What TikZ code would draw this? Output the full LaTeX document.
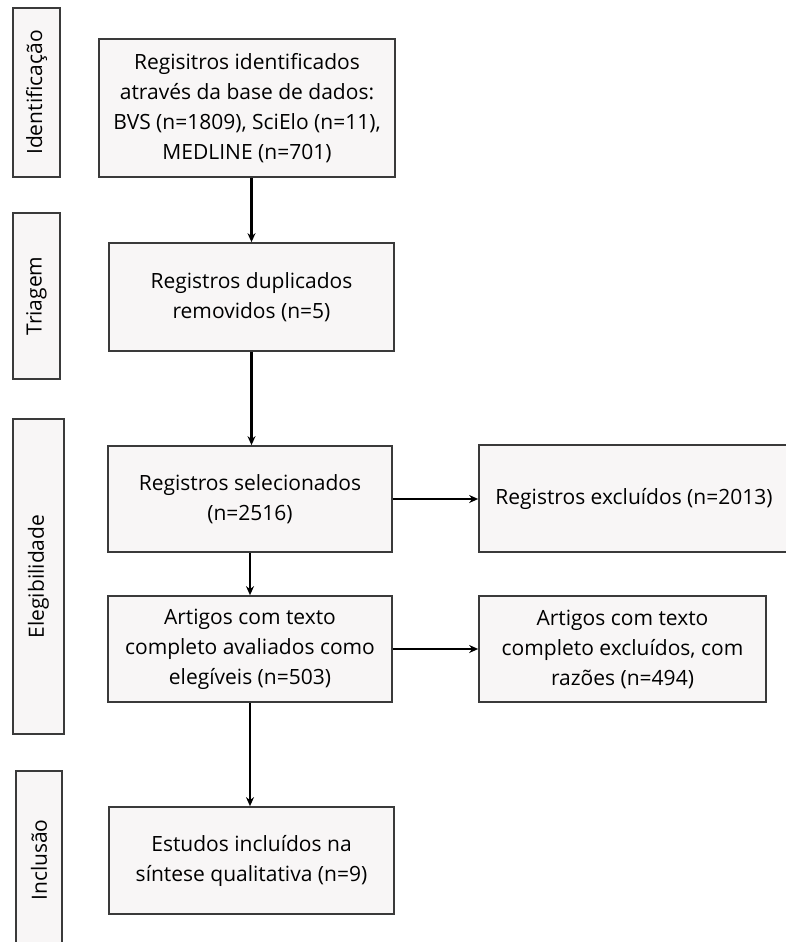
\documentclass[tikz,border=0pt]{standalone}
\usepackage{fontspec}
\setmainfont{Open Sans}
\usepackage{tikz}
\usetikzlibrary{arrows.meta,positioning}

\definecolor{boxfill}{HTML}{F8F6F6}
\definecolor{boxline}{HTML}{3A3A3A}

\tikzset{
  flowbox/.style={draw=boxline, fill=boxfill, line width=1.7pt, align=center,
    inner sep=0pt, font=\fontsize{21}{30}\selectfont},
  phasebox/.style={draw=boxline, fill=boxfill, line width=1.7pt, inner sep=0pt,
    font=\fontsize{21}{30}\selectfont},
  flowarrow/.style={-{Stealth[length=9pt,width=8pt]}, line width=2.2pt, black},
}

\begin{document}
\begin{tikzpicture}[x=1pt, y=-1pt]
		\useasboundingbox (0,0) rectangle (786,942);
		% phase labels on the left
		\node[phasebox, minimum width=47pt, minimum height=169pt] (identif) at (36.5,92.5) {\rotatebox{90}{Identificação}};
		\node[phasebox, minimum width=47pt, minimum height=166pt] (triag) at (36.5,296) {\rotatebox{90}{Triagem}};
		\node[phasebox, minimum width=51pt, minimum height=315pt] (elegib) at (38.5,576.5) {\rotatebox{90}{Elegibilidade}};
		\node[phasebox, minimum width=46pt, minimum height=178pt] (inclus) at (39,860) {\rotatebox{90}{Inclusão}};
		% main flow
		\node[flowbox, minimum width=296pt, minimum height=138pt] (reg) at (247,108) {Regisitros identificados\\através da base de dados:\\BVS (n=1809), SciElo (n=11),\\MEDLINE (n=701)};
		\node[flowbox, minimum width=285pt, minimum height=108pt] (dup) at (251.5,297) {Registros duplicados\\removidos (n=5)};
		\node[flowbox, minimum width=284pt, minimum height=106pt] (sel) at (250,499) {Registros selecionados\\(n=2516)};
		\node[flowbox, minimum width=284pt, minimum height=106pt] (art) at (250,649) {Artigos com texto\\completo avaliados como\\elegíveis (n=503)};
		\node[flowbox, minimum width=285pt, minimum height=107pt] (est) at (251.5,860.5) {Estudos incluídos na\\síntese qualitativa (n=9)};
		% exclusions
		\node[flowbox, minimum width=310pt, minimum height=107pt] (exc) at (634,498.5) {Registros excluídos (n=2013)};
		\node[flowbox, minimum width=287pt, minimum height=106pt] (artexc) at (622.5,649) {Artigos com texto\\completo excluídos, com\\razões (n=494)};
		% connectors
		\draw[flowarrow] (dup.north |- reg.south) -- (dup.north);
		\draw[flowarrow] (dup.south) -- (dup.south |- sel.north);
		\draw[flowarrow] (sel.east) -- (sel.east -| exc.west);
		\draw[flowarrow] (sel.south) -- (art.north);
		\draw[flowarrow] (art.east) -- (artexc.west);
		\draw[flowarrow] (art.south) -- (art.south |- est.north);
\end{tikzpicture}
\end{document}
